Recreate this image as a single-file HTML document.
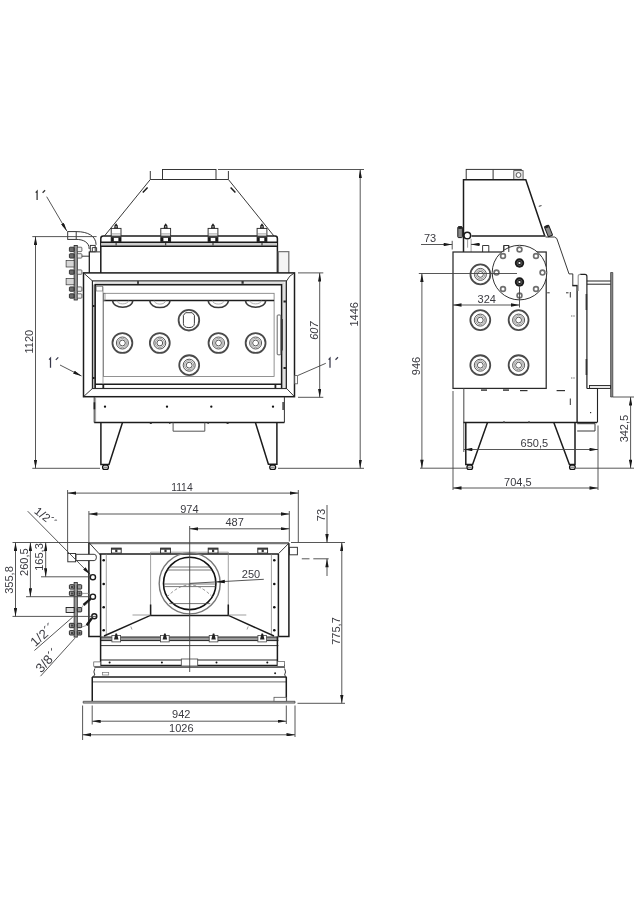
<!DOCTYPE html>
<html><head><meta charset="utf-8">
<style>
html,body{margin:0;padding:0;background:#fff;}
body{width:640px;height:900px;overflow:hidden;}
svg{display:block;filter:blur(0.3px);}
.a{stroke:#2e2e2e;stroke-width:0.95;fill:none;}
.b{stroke:#1c1c1c;stroke-width:1.5;fill:none;}
.c{stroke:#777;stroke-width:0.7;fill:none;}
.d{stroke:#444;stroke-width:0.9;fill:none;}
.w{fill:#fff;}
.g{fill:#c8c8c8;}
text{font-family:"Liberation Sans",sans-serif;font-size:11px;fill:#3a3a40;}
.s{font-size:13px;}
.f{font-size:13px;letter-spacing:0.2px;}
</style></head>
<body>
<svg width="640" height="900" viewBox="0 0 640 900">
<defs>
<marker id="ar" viewBox="0 0 10 4" refX="10" refY="2" markerWidth="9" markerHeight="3.4" orient="auto-start-reverse" markerUnits="userSpaceOnUse"><path d="M0,0L10,2L0,4z" fill="#1a1a1a"/></marker>
<g id="fport">
<circle r="9.95" stroke="#4a4a4a" stroke-width="1.8" fill="none"/>
<circle r="6.0" fill="#f0f0f0" stroke="#505050" stroke-width="0.95"/>
<circle r="4.5" stroke="#808080" stroke-width="0.75" fill="none"/>
<circle r="2.9" stroke="#444" stroke-width="0.9" fill="#fff"/>
<circle r="1.9" fill="#fff"/>
</g>
</defs>
<rect width="640" height="900" fill="#fff"/>
<!-- ================= FRONT VIEW ================= -->
<g id="front">
<!-- collar -->
<rect class="a" x="162.5" y="169.5" width="53.5" height="10"/>
<path class="a" d="M150.3,171V179.5H228.4V171"/>
<!-- hood -->
<path class="a" d="M150.3,179.5L104.6,235.8M228.4,179.5L273.8,235.8"/>
<path class="b" d="M142.8,192.6L147.6,187.4M230.6,187.4L235.4,192.6" stroke-width="1.3"/>
<!-- top plate + upper body -->
<path class="b" d="M100.8,272.9V238.6Q100.8,236.1 103.3,236.1H275.1Q277.4,236.1 277.4,238.6V272.9" stroke-width="1.9"/>
<rect x="101.3" y="242.6" width="175.6" height="3.3" fill="#cfcfcf"/>
<path class="b" d="M100.6,242.3H277.6M100.6,246.3H277.6" stroke-width="1.2"/>
<g id="clamp">
<rect class="a w" x="111.2" y="228.4" width="9.8" height="7.7"/>
<path class="c" d="M111.2,233.9H121"/>
<rect class="a w" x="111.2" y="237.4" width="9.8" height="4.2"/>
<rect x="111.2" y="237.6" width="2.6" height="3.9" fill="#151515"/>
<rect x="118.4" y="237.6" width="2.6" height="3.9" fill="#151515"/>
<path d="M114.1,228.4L114.5,225.6L116.1,223.3L117.7,225.6L118.1,228.4Z" fill="#222"/><rect x="115.4" y="226" width="1.4" height="1.6" fill="#999"/>
<rect x="115.6" y="242.4" width="1" height="3" fill="#222"/>
</g>
<use href="#clamp" x="49.6"/>
<use href="#clamp" x="96.9"/>
<use href="#clamp" x="145.9"/>
<!-- right side piece -->
<path d="M278.4,272.9V251.6H288.8V272.9" stroke="#777" stroke-width="1.3" fill="#f4f4f4"/>
<!-- left pipe column + elbow -->
<rect class="a w" x="67.7" y="231.6" width="8.5" height="7.8"/>
<path class="a" d="M76.2,231.6C88,231.6 96,236 96.1,244.8M76.2,239.4C83,239.4 89.2,242 89.2,249"/><path d="M89.3,251.5V272.9" stroke="#1a1a1a" stroke-width="1.25"/>
<path class="a" d="M89.3,251.9H100"/>
<rect class="a w" x="90.3" y="245.4" width="4.9" height="6.3"/>
<path class="a" d="M92.3,251.7V247.6H96.6V251.7"/>
<!-- manifold -->
<rect x="74.1" y="245.4" width="3.2" height="54.6" fill="#999" stroke="#222" stroke-width="0.8"/>
<g fill="#6a6a6a" stroke="#1a1a1a" stroke-width="0.8">
<rect x="69.4" y="247.2" width="4.7" height="4.4" rx="0.8"/>
<rect x="69.4" y="253.7" width="4.7" height="4.4" rx="0.8"/>
<rect x="69.4" y="269.9" width="4.7" height="4.4" rx="0.8"/>
<rect x="69.4" y="286.9" width="4.7" height="4.4" rx="0.8"/>
<rect x="69.4" y="293.8" width="4.7" height="4.4" rx="0.8"/>
</g>
<g fill="#eee" stroke="#333" stroke-width="0.7">
<rect x="77.3" y="247.2" width="4.6" height="4.4" rx="0.8"/>
<rect x="77.3" y="253.7" width="4.6" height="4.4" rx="0.8"/>
<rect x="77.3" y="269.9" width="4.6" height="4.4" rx="0.8"/>
<rect x="77.3" y="286.9" width="4.6" height="4.4" rx="0.8"/>
<rect x="77.3" y="293.8" width="4.6" height="4.4" rx="0.8"/>
<rect x="66.1" y="260.6" width="8" height="6.4" fill="#d6d6d6"/>
<rect x="66.1" y="278.6" width="8" height="6.2" fill="#d6d6d6"/>
</g>
<path class="a" d="M81.9,256.2H89.2"/>
<!-- frame -->
<rect class="b" x="83.5" y="272.9" width="211" height="123.8"/>
<rect x="92.4" y="280.9" width="194" height="107.6" fill="none" stroke="#222" stroke-width="1.15"/>
<path class="a" d="M83.5,272.9L92.4,280.9M294.5,272.9Q289,275.5 286.6,280.9M83.5,396.7L92.4,388.5M294.5,396.7L286.6,388.5"/>
<!-- door -->
<rect x="93.2" y="284.6" width="2.1" height="103.9" fill="#aaa"/>
<rect x="281.6" y="284.6" width="3.5" height="103.9" fill="#e0e0e0"/>
<rect x="94.6" y="282.4" width="190" height="2.3" fill="#d4d4d4"/>
<path class="b" d="M95.2,388.5V284.7H281.6V388.5" stroke-width="1.3"/>
<path class="a" d="M286.2,282V388.5M92.4,388.5H286.6"/>
<path class="b" d="M95.2,384.2H281.6" stroke-width="1.3"/>
<path class="c" d="M103,286.6V383"/>
<rect class="c" x="96.2" y="286.5" width="6.5" height="4.5"/>
<rect x="103.4" y="293.3" width="170.7" height="83.1" fill="none" stroke="#777" stroke-width="0.8"/>
<path class="b" d="M103.4,300.5H274.1" stroke-width="1.3"/>
<rect class="c" x="103.4" y="293.3" width="1.6" height="7.2"/>
<rect x="283.5" y="300.5" width="2.4" height="2" fill="#222"/>
<rect x="283.5" y="367" width="2.4" height="2" fill="#222"/>
<rect x="93" y="305" width="1.6" height="2" fill="#222"/>
<rect x="93" y="377" width="1.6" height="2" fill="#222"/>
<rect x="137" y="280.9" width="2" height="3" fill="#444"/>
<rect x="241.5" y="281" width="2.2" height="2.8" fill="#333"/>
<rect x="102.4" y="384.6" width="1.8" height="3.6" fill="#222"/>
<rect x="274.5" y="384.6" width="1.8" height="3.6" fill="#222"/>
<!-- handle -->
<rect x="277.2" y="315" width="3.6" height="39.8" rx="0.8" fill="#fff" stroke="#555" stroke-width="0.9"/>
<rect x="280.9" y="319" width="1.9" height="31.5" fill="#333"/>
<!-- top row ports (hidden) -->
<g fill="none" stroke="#3a3a3a" stroke-width="1.5">
<path d="M112.6,300.6A10.1,6.6 0 0 0 132.8,300.6"/>
<path d="M149.8,300.6A10.1,7 0 0 0 170,300.6"/>
<path d="M208.2,300.6A10.1,7 0 0 0 228.4,300.6"/>
<path d="M245.5,300.6A10.1,6.6 0 0 0 265.7,300.6"/>
</g>
<g fill="none" stroke="#999" stroke-width="0.8">
<path d="M117,300.6A5.7,3.3 0 0 0 128.4,300.6"/>
<path d="M154.2,300.6A5.7,3.5 0 0 0 165.6,300.6"/>
<path d="M212.6,300.6A5.7,3.5 0 0 0 224,300.6"/>
<path d="M249.9,300.6A5.7,3.3 0 0 0 261.3,300.6"/>
</g>
<use href="#fport" x="122.4" y="343"/>
<use href="#fport" x="159.8" y="343"/>
<use href="#fport" x="218.5" y="343"/>
<use href="#fport" x="255.6" y="343"/>
<use href="#fport" x="189.2" y="365.2"/>
<circle cx="188.9" cy="320.2" r="10.3" stroke="#4a4a4a" stroke-width="1.8" fill="none"/>
<path d="M183.4,315.4L185.6,312.7H192.2L194.4,315.4V323.4Q194.4,327.6 188.9,327.6Q183.4,327.6 183.4,323.4Z" stroke="#333" stroke-width="0.95" fill="#fff"/>
<!-- lower box -->
<path d="M94.2,396.7V422.5M284.4,396.7V422.5" stroke="#333" stroke-width="1"/>
<path class="b" d="M94.2,422.5H284.4"/>
<path class="c" d="M95.6,397V422"/>
<rect x="93.6" y="402.3" width="1.6" height="7" fill="#222"/>
<rect x="282.4" y="402" width="1.4" height="8" fill="#333"/>
<g fill="#111"><circle cx="105" cy="406.7" r="1.15"/><circle cx="167" cy="406.7" r="1.15"/><circle cx="211.3" cy="406.7" r="1.15"/><circle cx="273" cy="406.7" r="1.15"/></g>
<g fill="#333"><rect x="149.8" y="422.5" width="2" height="1.5"/><rect x="226.6" y="422.5" width="2" height="1.5"/><rect x="169" y="422.5" width="1.5" height="1.3"/><rect x="207.4" y="422.5" width="1.5" height="1.3"/></g>
<path d="M173.1,422.5V431.2H204.8V422.5" stroke="#555" stroke-width="1" fill="none"/>
<!-- legs -->
<path class="b" d="M100.9,422.5V464.4H109L122.5,422.5" stroke-width="1.2"/>
<path class="b" d="M276.9,422.5V464.2H268.4L255.4,422.5" stroke-width="1.2"/>
<g fill="#fff" stroke="#111" stroke-width="1.3">
<rect x="102.6" y="465.1" width="5.8" height="4.2" rx="1.9"/>
<rect x="269.8" y="465.1" width="5.8" height="4.2" rx="1.9"/>
</g>
<path d="M103.5,467.2H107.5M270.7,467.2H274.7" stroke="#333" stroke-width="0.8"/>
<!-- dimensions -->
<path class="d" d="M32.3,236.6H96.6M32.3,468.3H100"/>
<path class="d" d="M35.5,236.6V468.3" marker-start="url(#ar)" marker-end="url(#ar)"/>
<text transform="translate(33.3,341.7) rotate(-90)" text-anchor="middle">1120</text>
<path class="d" d="M218,169.5H364M278,468.3H364"/>
<path class="d" d="M360.2,169.5V468.3" marker-start="url(#ar)" marker-end="url(#ar)"/>
<text transform="translate(357.6,314.3) rotate(-90)" text-anchor="middle">1446</text>
<path class="d" d="M298,272.9H323.3M298,397.3H323.3"/>
<path class="d" d="M319.7,272.9V397.3" marker-start="url(#ar)" marker-end="url(#ar)"/>
<text transform="translate(318.2,330.6) rotate(-90)" text-anchor="middle" font-style="italic">607</text>
<!-- leaders -->
<path class="d" d="M46.7,196.7L66.8,231" marker-end="url(#ar)"/>
<path d="M37.1,200.1V191.1L35.7,192.6M45.1,190.3L42.6,192.8" stroke="#333" stroke-width="1.25" fill="none"/>
<path class="d" d="M60,365L81.5,376" marker-end="url(#ar)"/>
<path d="M50.5,367.8V358.1L49.1,359.6M58.3,357.4L55.8,359.9" stroke="#38384a" stroke-width="1.25" fill="none"/>
<path class="d" d="M325.8,363.3L297.6,375.6"/>
<rect x="294.8" y="375.6" width="2.8" height="8.2" fill="#fff" stroke="#555" stroke-width="0.8"/>
<path d="M330,367.8V358.1L328.6,359.6M338,357.3L335.5,359.8" stroke="#38384a" stroke-width="1.25" fill="none"/>
</g>
<!-- ================= SIDE VIEW ================= -->
<g id="side">
<rect class="a" x="466.2" y="169.4" width="55" height="10.1"/>
<rect x="513.8" y="170.6" width="9.3" height="8.9" fill="#e4e4e4" stroke="#444" stroke-width="0.8"/>
<path d="M493.1,169.8V179.5" stroke="#333" stroke-width="1"/>
<circle cx="518.5" cy="175" r="2.4" fill="#fff" stroke="#333" stroke-width="0.8"/>
<path class="b" d="M463.5,252V179.7H525.8L544.6,235.5" stroke-width="1.3"/>
<path class="a" d="M538.8,206.3L541.5,205.6"/>
<path class="b" d="M471.5,235.9H545.6" stroke-width="1.8"/>
<circle cx="467.3" cy="235.5" r="3.3" stroke="#1a1a1a" stroke-width="1.5" fill="#fff"/>
<rect x="457.8" y="226.8" width="4.6" height="10.8" rx="0.8" fill="#8a8a8a" stroke="#1a1a1a" stroke-width="1"/>
<rect x="458.3" y="226.3" width="3.6" height="2.6" fill="#222"/>
<g transform="rotate(-22 548.5 231)"><rect x="546.2" y="225.6" width="4.6" height="10.8" rx="0.8" fill="#8a8a8a" stroke="#1a1a1a" stroke-width="1"/><rect x="546.7" y="225.1" width="3.6" height="2.6" fill="#222"/></g>
<path class="a" d="M545.6,237H554.5Q557.2,237.4 558,242L569,273.9H572.8V285.6" stroke-width="0.95"/><path d="M572.3,285.6H577.8" stroke="#222" stroke-width="1.5"/>
<path class="c" d="M471.1,238.8V252M467.6,238.8V247.7" stroke-width="0.9"/>
<path class="a" d="M482.6,245.5V252M488.8,245.5V252M482.6,245.5H488.8M503.8,245.5V252M508.8,245.5V252M503.8,245.5H508.8"/>
<!-- body -->
<rect x="453" y="252" width="93.2" height="136.4" fill="none" stroke="#2a2a2a" stroke-width="1.25"/>
<!-- flange -->
<circle cx="519.5" cy="272.6" r="27.3" stroke="#333" stroke-width="1" fill="#fff"/>
<path class="a" d="M503.8,245.5V252M508.8,245.5V252M503.8,245.5H508.8"/>
<g fill="#fff" stroke="#707070" stroke-width="1.7">
<circle cx="519.5" cy="249.5" r="2.4"/><circle cx="536" cy="256" r="2.4"/><circle cx="542.5" cy="272.6" r="2.4"/><circle cx="536" cy="289" r="2.4"/>
<circle cx="519.5" cy="295.5" r="2.4"/><circle cx="503" cy="289" r="2.4"/><circle cx="496.5" cy="272.6" r="2.4"/><circle cx="503" cy="256" r="2.4"/>
</g>
<circle cx="519.5" cy="263" r="4.7" fill="#1a1a1a"/><circle cx="519.5" cy="263" r="2.5" fill="none" stroke="#777" stroke-width="0.6"/><circle cx="519.5" cy="263" r="1.1" fill="#fff"/>
<circle cx="519.5" cy="282" r="4.7" fill="#1a1a1a"/><circle cx="519.5" cy="282" r="2.5" fill="none" stroke="#777" stroke-width="0.6"/><circle cx="519.5" cy="282" r="1.1" fill="#fff"/>
<!-- ports -->
<use href="#fport" x="480.4" y="274.4"/>
<use href="#fport" x="480.3" y="320.1"/>
<use href="#fport" x="518.6" y="320.1"/>
<use href="#fport" x="480.3" y="365.2"/>
<use href="#fport" x="518.6" y="365.2"/>
<!-- right parts -->
<path d="M577.1,285.6V422.5" stroke="#222" stroke-width="1.4" fill="none"/>
<path d="M580.2,274.4H584.9Q586.9,274.4 586.9,276.4V388.5" stroke="#222" stroke-width="1.2" fill="none"/>
<path d="M578.2,291V276.4Q578.2,274.4 580.2,274.4" stroke="#999" stroke-width="1.2" fill="none"/>
<path d="M610.6,272.5H612.8V397H610.6Z" fill="#888" stroke="#333" stroke-width="0.7"/>
<path d="M586.9,281H610.6M586.9,284.2H610.6" stroke="#222" stroke-width="1" fill="none"/>
<rect x="589.5" y="385.5" width="21" height="3" fill="#e6e6e6" stroke="#222" stroke-width="0.9"/>
<path d="M586.9,388.5H597.5V422.5" stroke="#222" stroke-width="1.1" fill="none"/>
<rect x="585.6" y="294" width="1.6" height="16" fill="#333"/>
<rect x="585.6" y="359" width="1.6" height="16" fill="#333"/>
<g fill="#333"><rect x="547.2" y="292.3" width="2.5" height="1"/><rect x="566" y="292.3" width="2.5" height="1"/><rect x="569.8" y="292" width="1" height="5.5"/>
<rect x="571.3" y="315.5" width="1" height="1"/><rect x="573.5" y="315.5" width="1" height="1"/><rect x="571.3" y="377.5" width="1" height="1"/><rect x="573.5" y="377.5" width="1" height="1"/>
<rect x="556.6" y="390" width="8.4" height="1.2"/><rect x="520" y="390" width="7.5" height="1.2"/><rect x="569.8" y="398.5" width="1" height="6.5"/><rect x="590" y="412" width="1.2" height="1.2"/>
<rect x="481" y="389.4" width="6" height="1.4"/><rect x="503" y="389.4" width="6" height="1.4"/></g>
<!-- lower box -->
<path d="M463.8,388.6V422.5" stroke="#555" stroke-width="1.1"/>
<path class="b" d="M463.3,422.5H597" stroke-width="1.3"/>
<path class="a" d="M577.2,423.7H595V431M577.2,431H595"/>
<g fill="#333"><rect x="503" y="421.5" width="2" height="1.5"/><rect x="528" y="421.5" width="2" height="1.5"/></g>
<!-- legs -->
<path class="b" d="M465.8,422.5V464.4H472.6L487.5,422.5" stroke-width="1.15"/>
<path class="b" d="M575,422.5V464.4H569.4L553.8,422.5" stroke-width="1.15"/>
<g fill="#fff" stroke="#111" stroke-width="1.3">
<rect x="467" y="465.1" width="5.6" height="4.2" rx="1.9"/>
<rect x="569.6" y="465.1" width="5.6" height="4.2" rx="1.9"/>
</g>
<path d="M467.8,467.2H471.8M570.4,467.2H574.4" stroke="#333" stroke-width="0.8"/>
<!-- dims -->
<path class="d" d="M418.8,273.5H517M420,468.2H467.5"/>
<path class="d" d="M421.9,273.5V468.2" marker-start="url(#ar)" marker-end="url(#ar)"/>
<text transform="translate(419.5,366) rotate(-90)" text-anchor="middle">946</text>
<path class="d" d="M519.5,286.5V307.5"/>
<path class="d" d="M453,305H519.5" marker-start="url(#ar)" marker-end="url(#ar)"/>
<text x="486.8" y="302.5" text-anchor="middle">324</text>
<path class="d" d="M421,244.5H452.2" marker-end="url(#ar)"/>
<path class="d" d="M480,244.4H471" marker-end="url(#ar)"/>
<path class="d" d="M452.2,240.8V249.5"/>
<text x="424" y="242">73</text>
<path class="d" d="M453,391V490M598,425.5V490M463.8,422.5V452"/>
<path class="d" d="M463.8,449.5H598" marker-start="url(#ar)" marker-end="url(#ar)"/>
<text x="534.3" y="446.6" text-anchor="middle">650,5</text>
<path class="d" d="M453,488H598" marker-start="url(#ar)" marker-end="url(#ar)"/>
<text x="517.8" y="485.5" text-anchor="middle">704,5</text>
<path class="d" d="M612.9,397H634M576,468.2H634"/>
<path class="d" d="M630.6,397V468.2" marker-start="url(#ar)" marker-end="url(#ar)"/>
<text transform="translate(628,428.6) rotate(-90)" text-anchor="middle">342,5</text>
</g>
<!-- ================= PLAN VIEW ================= -->
<g id="plan">
<!-- body -->
<path d="M88.9,543.1H288.9" stroke="#777" stroke-width="2.1"/>
<path class="b" d="M88.9,542.5V636.6H100.6M288.9,543.2V636.5H278.4" stroke-width="1.3"/>
<path class="a" d="M88.9,542.5L99.2,553.8M288.9,543.2L278.4,553.8"/>
<path class="b" d="M99.2,553.9H278.4" stroke-width="1.3"/>
<path class="b" d="M100.6,553.9V636.6M278.4,553.9V636.5" stroke-width="1.2"/>
<path class="c" d="M106.3,553.9V634.5M271.4,553.9V634.5"/>
<g fill="#111"><circle cx="103.7" cy="560.3" r="1.3"/><circle cx="103.7" cy="584" r="1.3"/><circle cx="103.7" cy="607.2" r="1.3"/><circle cx="103.7" cy="630.3" r="1.3"/>
<circle cx="274.3" cy="560.3" r="1.3"/><circle cx="274.3" cy="584" r="1.3"/><circle cx="274.3" cy="607.2" r="1.3"/><circle cx="274.3" cy="630.3" r="1.3"/></g>
<!-- flue box -->
<path class="c" d="M150.6,552.2V615M228.3,552.2V615M150.6,552.2H228.3"/>
<path class="b" d="M150.6,604.4V615.2M228.3,604.4V615.2" stroke-width="1.1"/>
<path class="b" d="M104,636L150.4,615.4H228.4L274,636" stroke-width="1.2"/>
<path class="c" d="M228.3,615H246.3M132.5,615H150.6"/>
<path class="c" d="M247,629.5L248.2,626.5M132,629.5L130.8,626.5"/>
<circle cx="189.7" cy="583.4" r="30.5" stroke="#777" stroke-width="1.4" fill="none"/>
<circle cx="189.7" cy="583.4" r="26.2" stroke="#111" stroke-width="1.6" fill="none"/>
<g stroke="#555" stroke-width="0.8" fill="none">
<path d="M168.9,567H210.5M167.5,570H212M164,584H215.4M163.8,586.6H215.6M169.2,603.6H210.2"/>
</g>
<path d="M167,597Q189.7,573 212.4,597" stroke="#777" stroke-width="0.8" fill="none" stroke-dasharray="3,2"/>
<!-- top clamps -->
<g id="pclamp">
<rect x="111.4" y="548.1" width="9.8" height="5" fill="#fff" stroke="#222" stroke-width="0.9"/>
<rect x="111.4" y="548.1" width="9.8" height="1.6" fill="#333"/>
<rect x="115.2" y="549.5" width="2.2" height="2.6" fill="#333"/>
</g>
<use href="#pclamp" x="49.2"/>
<use href="#pclamp" x="96.8"/>
<use href="#pclamp" x="146.4"/>
<!-- pipe stubs -->
<rect class="a w" x="67.8" y="553.5" width="7.8" height="8.3"/>
<path class="a w" d="M76,554.3H94.2Q96.4,554.3 96.4,557.2Q96.4,560.6 94.2,560.6H76Z"/>
<rect class="a w" x="289.5" y="547.3" width="7.9" height="7.5"/>
<!-- ports + fittings -->
<g fill="#fff" stroke="#1a1a1a" stroke-width="1.4"><circle cx="92.9" cy="577.2" r="2.6"/><circle cx="92.9" cy="596.7" r="2.6"/><circle cx="94.3" cy="616.2" r="2.5"/></g>
<path d="M90.6,598.9L83.5,605M91.8,618.3L86.7,625.3" stroke="#1a1a1a" stroke-width="2.4"/>
<path d="M88,602L85,605.5M83.1,605.3L81,609M86.7,625.3L82,627" stroke="#666" stroke-width="0.6"/>
<!-- manifold -->
<rect x="74.1" y="582.6" width="3.2" height="54.5" fill="#999" stroke="#222" stroke-width="0.8"/>
<g fill="#9a9a9a" stroke="#1a1a1a" stroke-width="0.9">
<rect x="69.4" y="584.7" width="4.7" height="4.4" rx="0.8"/><rect x="77.3" y="584.7" width="4.4" height="4.4" rx="0.8"/>
<rect x="69.4" y="591.2" width="4.7" height="4.4" rx="0.8"/><rect x="77.3" y="591.2" width="4.4" height="4.4" rx="0.8"/>
<rect x="66.1" y="607.5" width="8" height="5" fill="#ddd"/><rect x="77.3" y="607.5" width="4.4" height="4.4" rx="0.8"/>
<rect x="69.4" y="623.3" width="4.7" height="4.4" rx="0.8"/><rect x="77.3" y="623.3" width="4.4" height="4.4" rx="0.8"/>
<rect x="69.4" y="630.6" width="4.7" height="4.4" rx="0.8"/><rect x="77.3" y="630.6" width="4.4" height="4.4" rx="0.8"/>
</g>
<g fill="#444"><rect x="71" y="586" width="2" height="2"/><rect x="71" y="592.5" width="2" height="2"/><rect x="71" y="624.5" width="2" height="2"/><rect x="71" y="632" width="2" height="2"/><rect x="78.5" y="592.5" width="2" height="2"/><rect x="78.5" y="632" width="2" height="2"/></g>
<path class="c" d="M81.7,593.4H88.9"/>
<!-- lower section -->
<rect x="100.6" y="637" width="177.8" height="3.6" fill="#9a9a9a"/>
<path d="M100.6,637H278.4M100.6,640.6H278.4" stroke="#222" stroke-width="1"/>
<path class="a" d="M100.6,645.6H278.4"/>
<path class="b" d="M100.6,636.6V666.2M277.4,636.6V666.2" stroke-width="1.2"/>
<path d="M100.6,660H277.4" stroke="#222" stroke-width="1"/>
<path class="b" d="M94.4,665.4H285" stroke-width="1.3"/>
<g id="bclamp">
<rect x="111.9" y="635.5" width="8.7" height="6.4" fill="#fff" stroke="#444" stroke-width="0.8"/>
<path d="M114,639.5L115.5,633.5H117L118.5,639.5Z" fill="#222"/>
</g>
<use href="#bclamp" x="48.6"/>
<use href="#bclamp" x="97.3"/>
<use href="#bclamp" x="146"/>
<g fill="#111"><circle cx="109.6" cy="662.5" r="1"/><circle cx="161.9" cy="662.5" r="1"/><circle cx="216.5" cy="662.5" r="1"/><circle cx="267.3" cy="662.5" r="1"/></g>
<rect x="181.3" y="659" width="16.4" height="7" fill="#fff" stroke="#444" stroke-width="0.8"/>
<rect x="93.75" y="661.9" width="6.85" height="4.4" fill="#fff" stroke="#555" stroke-width="0.7"/>
<rect x="277.4" y="661.6" width="7" height="5" fill="#fff" stroke="#555" stroke-width="0.7"/>
<circle cx="275.1" cy="673.3" r="1" fill="#222"/>
<path d="M94.4,667.2H285" stroke="#666" stroke-width="1.8"/>
<path class="a" d="M94.8,668.5Q93,672 94.8,675L92.5,676.9M284.6,668.5Q286.5,672 284.6,675L286.3,676.9"/>
<rect class="c" x="102.5" y="672.5" width="6.2" height="2.5"/>
<path class="b" d="M92.3,676.9H286.3" stroke-width="1.4"/>
<path d="M92.3,681.9H286.3" stroke="#888" stroke-width="1.2"/>
<path class="b" d="M92.25,676.9V701.3M286.3,676.9V701.3" stroke-width="1.2"/>
<path d="M83.2,701.3H295V703.1H83.2Z" fill="#bbb" stroke="#444" stroke-width="0.8"/>
<rect x="274" y="697.3" width="12.3" height="4" fill="#fff" stroke="#555" stroke-width="0.8"/>
<!-- center line -->
<path class="d" d="M189.7,526V672"/>
<!-- dims -->
<path class="d" d="M67.6,490V553.5M298.3,490V542.5"/>
<path class="d" d="M67.6,493.1H298.3" marker-start="url(#ar)" marker-end="url(#ar)"/>
<text x="181.9" y="491" text-anchor="middle" textLength="21.5" lengthAdjust="spacingAndGlyphs">1114</text>
<path class="d" d="M88.9,511V542.5M289.3,511V541.5"/>
<path class="d" d="M88.9,514H289.3" marker-start="url(#ar)" marker-end="url(#ar)"/>
<text x="189.4" y="512.5" text-anchor="middle">974</text>
<path class="d" d="M189.7,528.8H289.3" marker-start="url(#ar)" marker-end="url(#ar)"/>
<text x="234.6" y="526.3" text-anchor="middle">487</text>
<path class="d" d="M291,542.5H345"/>
<path class="d" d="M301.8,558.8H309.5M313.3,558.8H328.7"/>
<path class="d" d="M327,505V542.5" marker-end="url(#ar)"/>
<path class="d" d="M327,576V558.8" marker-end="url(#ar)"/>
<text transform="translate(325.3,515) rotate(-90)" text-anchor="middle">73</text>
<path class="d" d="M341.8,542.5V703.3" marker-start="url(#ar)" marker-end="url(#ar)"/>
<path class="d" d="M297.5,703.3H345"/>
<text transform="translate(339.5,631) rotate(-90)" text-anchor="middle">775,7</text>
<path class="d" d="M92.2,705.5V724.5M286.3,705.5V724M82.6,705.5V740M295,705.5V737"/>
<path class="d" d="M92.2,721.2H286.3" marker-start="url(#ar)" marker-end="url(#ar)"/>
<text x="181.3" y="718" text-anchor="middle">942</text>
<path class="d" d="M82.6,734.8H295" marker-start="url(#ar)" marker-end="url(#ar)"/>
<text x="181.3" y="731.5" text-anchor="middle">1026</text>
<!-- 250 leader -->
<path class="d" d="M189.7,583.4L263.8,579.3"/>
<path d="M216,581.95L224.8,579.8L224.8,583.2Z" fill="#111"/>
<text x="251" y="577.6" text-anchor="middle">250</text>
<!-- left dims -->
<path class="d" d="M12.5,542.5H88.9M41,576.8H90.3M26,596.7H90.3M12.5,616.4H96"/>
<path class="d" d="M15.5,542.5V616.4" marker-start="url(#ar)" marker-end="url(#ar)"/>
<text transform="translate(13.3,580) rotate(-90)" text-anchor="middle">355,8</text>
<path class="d" d="M30.4,542.5V596.7" marker-start="url(#ar)" marker-end="url(#ar)"/>
<text transform="translate(28.3,562.2) rotate(-90)" text-anchor="middle">260,5</text>
<path class="d" d="M45.7,542.5V576.8" marker-start="url(#ar)" marker-end="url(#ar)"/>
<text transform="translate(42.9,557) rotate(-90)" text-anchor="middle">165,3</text>
<!-- leaders -->
<path class="d" d="M27.7,511.2L90.3,574.5" marker-end="url(#ar)"/>
<text class="f" transform="translate(33.6,512.6) rotate(38)" style="font-size:11.5px">1/2´´</text>
<path class="d" d="M34.4,650.5L72.7,617.1"/>
<text class="f" transform="translate(35.3,647.3) rotate(-42)">1/2´´</text>
<path class="d" d="M40.5,676.2L74.9,638.2"/>
<text class="f" transform="translate(41.2,673.5) rotate(-47.5)">3/8´´</text>
</g>
</svg>
</body></html>
